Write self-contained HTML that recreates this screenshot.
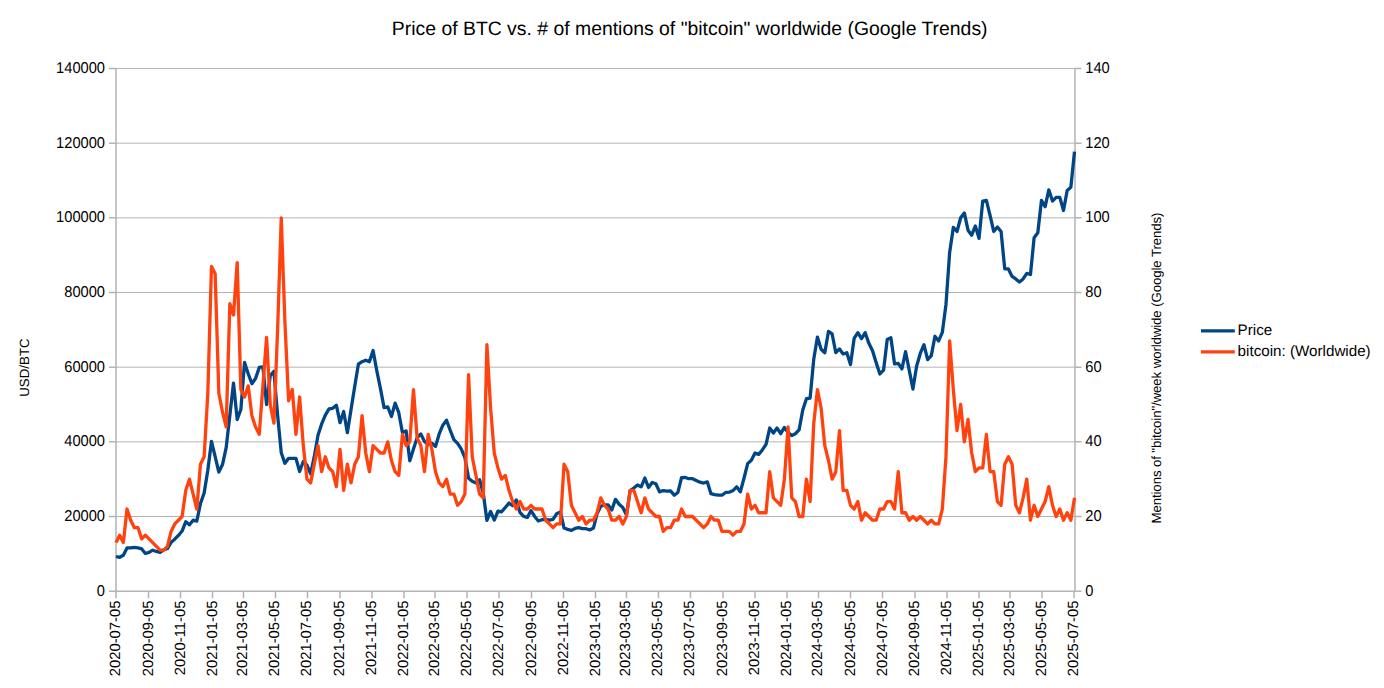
<!DOCTYPE html>
<html><head><meta charset="utf-8"><title>Price of BTC vs. bitcoin mentions</title>
<style>html,body{margin:0;padding:0;background:#fff;overflow:hidden}body{width:1384px;height:688px;font-family:"Liberation Sans",sans-serif}</style></head>
<body>
<svg width="1384" height="688" viewBox="0 0 1384 688" style="display:block;font-family:'Liberation Sans',sans-serif" text-rendering="geometricPrecision">
<rect width="1384" height="688" fill="#fff"/>
<path d="M116.0 516.49H1075.0 M116.0 441.82H1075.0 M116.0 367.16H1075.0 M116.0 292.49H1075.0 M116.0 217.83H1075.0 M116.0 143.16H1075.0 M116.0 68.50H1075.0" stroke="#b3b3b3" stroke-width="1" fill="none"/>
<path d="M116.0 68.5V591.15 M1075.0 68.5V591.15 M116.0 591.15H1075.0 M109.0 591.15H116.0 M1075.0 591.15H1081.5 M109.0 516.49H116.0 M1075.0 516.49H1081.5 M109.0 441.82H116.0 M1075.0 441.82H1081.5 M109.0 367.16H116.0 M1075.0 367.16H1081.5 M109.0 292.49H116.0 M1075.0 292.49H1081.5 M109.0 217.83H116.0 M1075.0 217.83H1081.5 M109.0 143.16H116.0 M1075.0 143.16H1081.5 M109.0 68.50H116.0 M1075.0 68.50H1081.5 M116.00 591.15V598.15 M148.53 591.15V598.15 M180.53 591.15V598.15 M212.53 591.15V598.15 M243.49 591.15V598.15 M275.49 591.15V598.15 M307.49 591.15V598.15 M340.02 591.15V598.15 M372.02 591.15V598.15 M404.03 591.15V598.15 M434.98 591.15V598.15 M466.98 591.15V598.15 M498.99 591.15V598.15 M531.51 591.15V598.15 M563.52 591.15V598.15 M595.52 591.15V598.15 M626.47 591.15V598.15 M658.48 591.15V598.15 M690.48 591.15V598.15 M723.01 591.15V598.15 M755.01 591.15V598.15 M787.01 591.15V598.15 M818.49 591.15V598.15 M850.50 591.15V598.15 M882.50 591.15V598.15 M915.03 591.15V598.15 M947.03 591.15V598.15 M979.03 591.15V598.15 M1009.99 591.15V598.15 M1041.99 591.15V598.15 M1073.99 591.15V598.15" stroke="#b3b3b3" stroke-width="1.5" fill="none"/>
<g font-size="14.67" fill="#000">
<text transform="translate(105.0 595.80) scale(1 1.07)" text-anchor="end">0</text>
<text transform="translate(1085.3 595.80) scale(1 1.07)">0</text>
<text transform="translate(105.0 520.80) scale(1 1.07)" text-anchor="end">20000</text>
<text transform="translate(1085.3 520.80) scale(1 1.07)">20</text>
<text transform="translate(105.0 445.80) scale(1 1.07)" text-anchor="end">40000</text>
<text transform="translate(1085.3 445.80) scale(1 1.07)">40</text>
<text transform="translate(105.0 371.80) scale(1 1.07)" text-anchor="end">60000</text>
<text transform="translate(1085.3 371.80) scale(1 1.07)">60</text>
<text transform="translate(105.0 296.80) scale(1 1.07)" text-anchor="end">80000</text>
<text transform="translate(1085.3 296.80) scale(1 1.07)">80</text>
<text transform="translate(105.0 221.80) scale(1 1.07)" text-anchor="end">100000</text>
<text transform="translate(1085.3 221.80) scale(1 1.07)">100</text>
<text transform="translate(105.0 147.80) scale(1 1.07)" text-anchor="end">120000</text>
<text transform="translate(1085.3 147.80) scale(1 1.07)">120</text>
<text transform="translate(105.0 72.80) scale(1 1.07)" text-anchor="end">140000</text>
<text transform="translate(1085.3 72.80) scale(1 1.07)">140</text>
<text transform="translate(120.00 600.55) rotate(-90)" font-size="14.8" text-anchor="end">2020-07-05</text>
<text transform="translate(152.53 600.55) rotate(-90)" font-size="14.8" text-anchor="end">2020-09-05</text>
<text transform="translate(184.53 600.55) rotate(-90)" font-size="14.8" text-anchor="end">2020-11-05</text>
<text transform="translate(216.53 600.55) rotate(-90)" font-size="14.8" text-anchor="end">2021-01-05</text>
<text transform="translate(247.49 600.55) rotate(-90)" font-size="14.8" text-anchor="end">2021-03-05</text>
<text transform="translate(279.49 600.55) rotate(-90)" font-size="14.8" text-anchor="end">2021-05-05</text>
<text transform="translate(311.49 600.55) rotate(-90)" font-size="14.8" text-anchor="end">2021-07-05</text>
<text transform="translate(344.02 600.55) rotate(-90)" font-size="14.8" text-anchor="end">2021-09-05</text>
<text transform="translate(376.02 600.55) rotate(-90)" font-size="14.8" text-anchor="end">2021-11-05</text>
<text transform="translate(408.03 600.55) rotate(-90)" font-size="14.8" text-anchor="end">2022-01-05</text>
<text transform="translate(438.98 600.55) rotate(-90)" font-size="14.8" text-anchor="end">2022-03-05</text>
<text transform="translate(470.98 600.55) rotate(-90)" font-size="14.8" text-anchor="end">2022-05-05</text>
<text transform="translate(502.99 600.55) rotate(-90)" font-size="14.8" text-anchor="end">2022-07-05</text>
<text transform="translate(535.51 600.55) rotate(-90)" font-size="14.8" text-anchor="end">2022-09-05</text>
<text transform="translate(567.52 600.55) rotate(-90)" font-size="14.8" text-anchor="end">2022-11-05</text>
<text transform="translate(599.52 600.55) rotate(-90)" font-size="14.8" text-anchor="end">2023-01-05</text>
<text transform="translate(630.47 600.55) rotate(-90)" font-size="14.8" text-anchor="end">2023-03-05</text>
<text transform="translate(662.48 600.55) rotate(-90)" font-size="14.8" text-anchor="end">2023-05-05</text>
<text transform="translate(694.48 600.55) rotate(-90)" font-size="14.8" text-anchor="end">2023-07-05</text>
<text transform="translate(727.01 600.55) rotate(-90)" font-size="14.8" text-anchor="end">2023-09-05</text>
<text transform="translate(759.01 600.55) rotate(-90)" font-size="14.8" text-anchor="end">2023-11-05</text>
<text transform="translate(791.01 600.55) rotate(-90)" font-size="14.8" text-anchor="end">2024-01-05</text>
<text transform="translate(822.49 600.55) rotate(-90)" font-size="14.8" text-anchor="end">2024-03-05</text>
<text transform="translate(854.50 600.55) rotate(-90)" font-size="14.8" text-anchor="end">2024-05-05</text>
<text transform="translate(886.50 600.55) rotate(-90)" font-size="14.8" text-anchor="end">2024-07-05</text>
<text transform="translate(919.03 600.55) rotate(-90)" font-size="14.8" text-anchor="end">2024-09-05</text>
<text transform="translate(951.03 600.55) rotate(-90)" font-size="14.8" text-anchor="end">2024-11-05</text>
<text transform="translate(983.03 600.55) rotate(-90)" font-size="14.8" text-anchor="end">2025-01-05</text>
<text transform="translate(1013.99 600.55) rotate(-90)" font-size="14.8" text-anchor="end">2025-03-05</text>
<text transform="translate(1045.99 600.55) rotate(-90)" font-size="14.8" text-anchor="end">2025-05-05</text>
<text transform="translate(1077.99 600.55) rotate(-90)" font-size="14.8" text-anchor="end">2025-07-05</text>
</g>
<text x="689.7" y="35" font-size="19.4" text-anchor="middle">Price of BTC vs. # of mentions of "bitcoin" worldwide (Google Trends)</text>
<text transform="translate(29.4 367.6) rotate(-90)" font-size="13.33" text-anchor="middle">USD/BTC</text>
<text transform="translate(1161.2 368) rotate(-90)" font-size="13.33" textLength="311" lengthAdjust="spacing" text-anchor="middle">Mentions of "bitcoin"/week worldwide (Google Trends)</text>
<path d="M1201 330.9H1234.8" stroke="#004586" stroke-width="3.4"/>
<path d="M1201 351.9H1234.8" stroke="#ff420e" stroke-width="3.4"/>
<text x="1237.6" y="335" font-size="15.2">Price</text>
<text x="1237.6" y="355.8" font-size="15.2">bitcoin: (Worldwide)</text>
<path d="M116.00 556.50 L119.67 557.30 L123.34 555.20 L127.02 547.95 L130.69 547.95 L134.36 547.45 L138.03 547.95 L141.71 548.95 L145.38 553.55 L149.05 552.35 L152.72 550.20 L156.40 551.45 L160.07 552.35 L163.74 549.85 L167.41 548.55 L171.09 542.35 L174.76 539.20 L178.43 535.45 L182.10 531.05 L185.78 521.70 L189.45 524.85 L193.12 520.20 L196.79 521.05 L200.47 503.55 L204.14 492.95 L207.81 470.20 L211.48 441.45 L215.16 456.70 L218.83 472.05 L222.50 464.55 L226.17 447.70 L229.85 415.20 L233.52 383.05 L237.19 419.55 L240.86 409.55 L244.54 362.45 L248.21 373.75 L251.88 383.70 L255.55 378.45 L259.23 367.45 L262.90 366.85 L266.57 404.55 L270.24 375.75 L273.92 371.25 L277.59 415.20 L281.26 452.70 L284.93 463.35 L288.61 458.35 L292.28 458.35 L295.95 458.35 L299.62 471.45 L303.30 461.45 L306.97 465.20 L310.64 473.95 L314.31 456.45 L317.99 435.20 L321.66 423.95 L325.33 415.20 L329.00 408.95 L332.68 408.35 L336.35 405.20 L340.02 422.70 L343.69 411.45 L347.37 432.70 L351.04 409.45 L354.71 386.45 L358.38 364.20 L362.06 361.70 L365.73 360.20 L369.40 361.70 L373.07 350.45 L376.75 370.45 L380.42 388.45 L384.09 407.70 L387.76 406.95 L391.44 416.45 L395.11 403.15 L398.78 412.70 L402.45 432.70 L406.13 430.85 L409.80 460.85 L413.47 448.95 L417.14 437.70 L420.82 433.95 L424.49 441.45 L428.16 444.55 L431.83 443.35 L435.51 446.45 L439.18 433.95 L442.85 425.20 L446.52 420.20 L450.20 430.20 L453.87 439.55 L457.54 443.35 L461.21 448.95 L464.89 457.70 L468.56 478.15 L472.23 481.25 L475.90 482.95 L479.58 479.70 L483.25 492.95 L486.92 520.45 L490.59 511.45 L494.27 520.05 L497.94 511.25 L501.61 511.75 L505.28 507.45 L508.96 503.05 L512.63 505.55 L516.30 499.95 L519.97 512.45 L523.65 516.45 L527.32 517.45 L530.99 510.55 L534.66 516.45 L538.34 520.95 L542.01 519.70 L545.68 519.35 L549.35 520.20 L553.03 519.35 L556.70 513.70 L560.37 511.85 L564.04 528.05 L567.72 529.35 L571.39 530.35 L575.06 528.45 L578.73 527.70 L582.40 528.70 L586.08 528.70 L589.75 529.95 L593.42 528.05 L597.09 513.70 L600.77 506.20 L604.44 504.95 L608.11 504.95 L611.78 509.95 L615.46 499.35 L619.13 504.35 L622.80 507.45 L626.47 514.95 L630.15 490.55 L633.82 488.05 L637.49 484.95 L641.16 486.85 L644.84 478.05 L648.51 487.45 L652.18 482.45 L655.85 483.70 L659.53 491.85 L663.20 490.55 L666.87 491.20 L670.54 490.95 L674.22 495.20 L677.89 492.45 L681.56 477.70 L685.23 477.45 L688.91 478.70 L692.58 478.70 L696.25 480.55 L699.92 482.20 L703.60 483.05 L707.27 481.85 L710.94 493.70 L714.61 494.70 L718.29 495.20 L721.96 495.20 L725.63 492.45 L729.30 492.20 L732.98 490.55 L736.65 486.85 L740.32 491.85 L743.99 478.25 L747.67 463.65 L751.34 460.25 L755.01 453.05 L758.68 454.35 L762.36 449.95 L766.03 444.35 L769.70 428.05 L773.37 433.05 L777.05 428.05 L780.72 433.70 L784.39 427.45 L788.06 432.45 L791.74 435.55 L795.41 433.70 L799.08 429.95 L802.75 409.95 L806.43 398.75 L810.10 398.15 L813.77 358.95 L817.44 337.05 L821.12 349.20 L824.79 352.70 L828.46 331.45 L832.13 333.95 L835.81 352.70 L839.48 348.95 L843.15 353.95 L846.82 352.70 L850.50 364.55 L854.17 338.35 L857.84 332.70 L861.51 338.70 L865.19 332.70 L868.86 343.35 L872.53 350.85 L876.20 362.70 L879.88 373.95 L883.55 370.20 L887.22 339.55 L890.89 337.70 L894.57 363.95 L898.24 363.35 L901.91 368.95 L905.58 351.70 L909.26 370.35 L912.93 389.05 L916.60 366.25 L920.27 353.45 L923.95 344.65 L927.62 359.65 L931.29 355.65 L934.96 336.25 L938.64 340.95 L942.31 332.45 L945.98 304.45 L949.65 252.45 L953.33 227.45 L957.00 231.45 L960.67 217.75 L964.34 212.95 L968.02 230.20 L971.69 235.20 L975.36 225.95 L979.03 238.35 L982.71 201.05 L986.38 200.45 L990.05 215.45 L993.72 231.45 L997.40 226.95 L1001.07 231.45 L1004.74 268.95 L1008.41 268.95 L1012.09 276.45 L1015.76 278.95 L1019.43 282.05 L1023.10 278.95 L1026.78 273.35 L1030.45 274.55 L1034.12 237.70 L1037.79 232.70 L1041.46 200.45 L1045.14 206.70 L1048.81 189.85 L1052.48 201.05 L1056.15 197.35 L1059.83 197.35 L1063.50 210.45 L1067.17 190.45 L1070.84 187.35 L1074.52 151.65" stroke="#004586" stroke-width="3.3" fill="none" stroke-linejoin="round" stroke-linecap="butt"/>
<path d="M116.00 542.62 L119.67 535.15 L123.34 542.62 L127.02 509.02 L130.69 520.22 L134.36 527.69 L138.03 527.69 L141.71 538.88 L145.38 535.15 L149.05 538.88 L152.72 542.62 L156.40 546.35 L160.07 550.08 L163.74 550.08 L167.41 546.35 L171.09 531.42 L174.76 523.95 L178.43 520.22 L182.10 516.49 L185.78 490.35 L189.45 479.15 L193.12 494.09 L196.79 509.02 L200.47 464.22 L204.14 456.75 L207.81 393.29 L211.48 266.36 L215.16 273.83 L218.83 393.29 L222.50 411.96 L226.17 426.89 L229.85 303.69 L233.52 314.89 L237.19 262.63 L240.86 389.56 L244.54 397.02 L248.21 385.82 L251.88 415.69 L255.55 426.89 L259.23 434.36 L262.90 385.82 L266.57 337.29 L270.24 404.49 L273.92 423.16 L277.59 329.82 L281.26 217.83 L284.93 322.36 L288.61 400.76 L292.28 389.56 L295.95 434.36 L299.62 397.02 L303.30 445.55 L306.97 479.15 L310.64 482.89 L314.31 464.22 L317.99 445.55 L321.66 471.69 L325.33 456.75 L329.00 467.95 L332.68 471.69 L336.35 486.62 L340.02 449.29 L343.69 490.35 L347.37 464.22 L351.04 482.89 L354.71 464.22 L358.38 456.75 L362.06 415.69 L365.73 453.02 L369.40 471.69 L373.07 445.55 L376.75 449.29 L380.42 453.02 L384.09 453.02 L387.76 441.82 L391.44 460.49 L395.11 471.69 L398.78 475.42 L402.45 434.36 L406.13 445.55 L409.80 441.82 L413.47 389.56 L417.14 438.09 L420.82 445.55 L424.49 471.69 L428.16 434.36 L431.83 449.29 L435.51 471.69 L439.18 482.89 L442.85 486.62 L446.52 479.15 L450.20 494.09 L453.87 494.09 L457.54 505.29 L461.21 501.55 L464.89 494.09 L468.56 374.62 L472.23 456.75 L475.90 475.42 L479.58 494.09 L483.25 497.82 L486.92 344.76 L490.59 408.22 L494.27 453.02 L497.94 467.95 L501.61 479.15 L505.28 475.42 L508.96 490.35 L512.63 501.55 L516.30 509.02 L519.97 501.55 L523.65 509.02 L527.32 509.02 L530.99 505.29 L534.66 509.02 L538.34 509.02 L542.01 509.02 L545.68 520.22 L549.35 523.95 L553.03 527.69 L556.70 523.95 L560.37 523.95 L564.04 464.22 L567.72 471.69 L571.39 505.29 L575.06 512.75 L578.73 520.22 L582.40 516.49 L586.08 523.95 L589.75 520.22 L593.42 520.22 L597.09 512.75 L600.77 497.82 L604.44 505.29 L608.11 509.02 L611.78 520.22 L615.46 520.22 L619.13 516.49 L622.80 523.95 L626.47 516.49 L630.15 490.35 L633.82 490.35 L637.49 501.55 L641.16 512.75 L644.84 497.82 L648.51 509.02 L652.18 512.75 L655.85 516.49 L659.53 516.49 L663.20 531.42 L666.87 527.69 L670.54 527.69 L674.22 520.22 L677.89 520.22 L681.56 509.02 L685.23 516.49 L688.91 516.49 L692.58 516.49 L696.25 520.22 L699.92 523.95 L703.60 527.69 L707.27 523.95 L710.94 516.49 L714.61 520.22 L718.29 520.22 L721.96 531.42 L725.63 531.42 L729.30 531.42 L732.98 535.15 L736.65 531.42 L740.32 531.42 L743.99 523.95 L747.67 494.09 L751.34 509.02 L755.01 505.29 L758.68 512.75 L762.36 512.75 L766.03 512.75 L769.70 471.69 L773.37 497.82 L777.05 501.55 L780.72 505.29 L784.39 479.15 L788.06 426.89 L791.74 497.82 L795.41 501.55 L799.08 516.49 L802.75 516.49 L806.43 479.15 L810.10 501.55 L813.77 423.16 L817.44 389.56 L821.12 408.22 L824.79 445.55 L828.46 460.49 L832.13 479.15 L835.81 471.69 L839.48 430.62 L843.15 490.35 L846.82 490.35 L850.50 505.29 L854.17 509.02 L857.84 501.55 L861.51 520.22 L865.19 512.75 L868.86 516.49 L872.53 520.22 L876.20 520.22 L879.88 509.02 L883.55 509.02 L887.22 501.55 L890.89 501.55 L894.57 509.02 L898.24 471.69 L901.91 512.75 L905.58 512.75 L909.26 520.22 L912.93 516.49 L916.60 520.22 L920.27 516.49 L923.95 520.22 L927.62 523.95 L931.29 520.22 L934.96 523.95 L938.64 523.95 L942.31 509.02 L945.98 456.75 L949.65 341.02 L953.33 389.56 L957.00 430.62 L960.67 404.49 L964.34 441.82 L968.02 419.42 L971.69 453.02 L975.36 471.69 L979.03 467.95 L982.71 467.95 L986.38 434.36 L990.05 471.69 L993.72 471.69 L997.40 501.55 L1001.07 505.29 L1004.74 464.22 L1008.41 456.75 L1012.09 464.22 L1015.76 505.29 L1019.43 512.75 L1023.10 497.82 L1026.78 479.15 L1030.45 520.22 L1034.12 505.29 L1037.79 516.49 L1041.46 509.02 L1045.14 501.55 L1048.81 486.62 L1052.48 505.29 L1056.15 516.49 L1059.83 509.02 L1063.50 520.22 L1067.17 512.75 L1070.84 520.22 L1074.52 497.82" stroke="#ff420e" stroke-width="3.3" fill="none" stroke-linejoin="round" stroke-linecap="butt"/>
</svg>
</body></html>
